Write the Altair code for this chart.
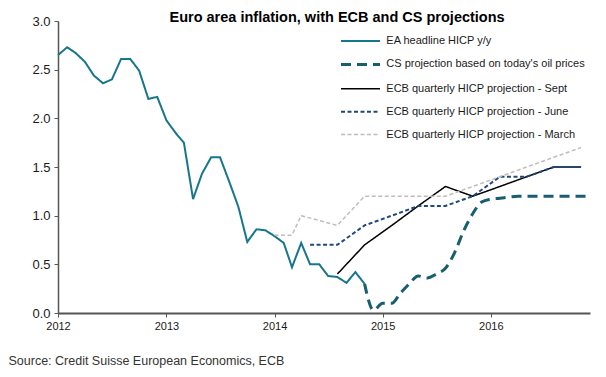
import altair as alt
import pandas as pd

# ---- data ----
hicp_start = "2012-01"
hicp_values = [2.65, 2.73, 2.67, 2.58, 2.44, 2.36, 2.40, 2.61, 2.61, 2.49, 2.20, 2.22,
               1.98, 1.85, 1.75, 1.17, 1.43, 1.60, 1.60, 1.35, 1.09, 0.73, 0.86, 0.85,
               0.79, 0.72, 0.47, 0.72, 0.50, 0.50, 0.38, 0.37, 0.31, 0.42, 0.30]

cs_start = "2014-11"
cs_values = [0.30, 0.03, 0.10, 0.10, 0.20, 0.30, 0.38, 0.36, 0.40, 0.46, 0.62, 0.84,
             1.02, 1.14, 1.17, 1.18, 1.19, 1.20, 1.20, 1.20, 1.20, 1.20, 1.20, 1.20,
             1.20, 1.20]

sept_dates = ["2014-08", "2014-11", "2015-02", "2015-05", "2015-08", "2015-11",
              "2016-02", "2016-05", "2016-08", "2016-11"]
sept_values = [0.40, 0.70, 0.90, 1.10, 1.30, 1.20, 1.30, 1.40, 1.50, 1.50]

june_dates = ["2014-05", "2014-08", "2014-11", "2015-02", "2015-05", "2015-08",
              "2015-11", "2016-02", "2016-05", "2016-08", "2016-11"]
june_values = [0.70, 0.70, 0.90, 1.00, 1.10, 1.10, 1.20, 1.40, 1.40, 1.50, 1.50]

march_dates = ["2014-01", "2014-03", "2014-04", "2014-08", "2014-11", "2015-08",
               "2015-11", "2016-02", "2016-05", "2016-08", "2016-11"]
march_values = [0.80, 0.80, 1.00, 0.90, 1.20, 1.20, 1.30, 1.40, 1.50, 1.60, 1.70]

series_names = ["EA headline HICP y/y",
                "CS projection based on today's oil prices",
                "ECB quarterly HICP projection - Sept",
                "ECB quarterly HICP projection - June",
                "ECB quarterly HICP projection - March"]
series_colors = ["#17768C", "#175E6E", "#000000", "#1F497D", "#C2BCB8"]
series_dashes = [[1, 0], [10, 6], [1, 0], [4, 2.5], [4, 2.5]]
series_widths = [2, 3, 1.5, 2, 1.5]

title_text = "Euro area inflation, with ECB and CS projections"
source_text = "Source: Credit Suisse European Economics, ECB"


def monthly(start, values):
    return [d.strftime("%Y-%m-01T00:00:00") for d in
            pd.date_range(start + "-01", periods=len(values), freq="MS")]


def q(dates):
    return [d + "-01T00:00:00" for d in dates]


frames = [
    pd.DataFrame({"date": monthly(hicp_start, hicp_values), "value": hicp_values, "series": series_names[0]}),
    pd.DataFrame({"date": monthly(cs_start, cs_values), "value": cs_values, "series": series_names[1]}),
    pd.DataFrame({"date": q(sept_dates), "value": sept_values, "series": series_names[2]}),
    pd.DataFrame({"date": q(june_dates), "value": june_values, "series": series_names[3]}),
    pd.DataFrame({"date": q(march_dates), "value": march_values, "series": series_names[4]}),
]
df = pd.concat(frames, ignore_index=True)

FONT = "Liberation Sans, Arial, sans-serif"

# long horizontal stroke drawn from a small symbol so rows can sit close together
legend = alt.Legend(title=None, orient="none", legendX=296, legendY=14,
                    symbolType="M-4,0H4", symbolSize=95, labelFont=FONT,
                    labelFontSize=11, labelColor="#1a1a1a", rowPadding=11.9,
                    labelOffset=19.3, labelLimit=400)

x = alt.X("date:T",
          scale=alt.Scale(domain=["2012-01-01T00:00:00", "2016-12-01T00:00:00"]),
          axis=alt.Axis(title=source_text, format="%Y",
                        tickCount={"interval": "year", "step": 1}, labelFlush=False,
                        labelFont=FONT, labelFontSize=11, labelColor="#1a1a1a",
                        labelPadding=3, tickSize=4, tickColor="#555555", tickWidth=1,
                        domainColor="#555555", domainWidth=2, grid=False,
                        titleFont=FONT, titleFontSize=12.5,
                        titleFontWeight="normal", titleColor="#333333",
                        titleAnchor="start", titleAlign="left", titleX=-50, titleY=47,
                        titleBaseline="middle"))
y = alt.Y("value:Q",
          scale=alt.Scale(domain=[0, 3]),
          axis=alt.Axis(title=title_text, values=[0, 0.5, 1, 1.5, 2, 2.5, 3], format=".1f",
                        labelFont=FONT, labelFontSize=13, labelColor="#1a1a1a",
                        labelPadding=4, tickSize=4, tickColor="#555555",
                        domainColor="#555555", domainWidth=1.5, grid=False,
                        titleFont=FONT, titleFontSize=14.5, titleFontWeight="bold",
                        titleColor="#000000", titleAngle=0, titleAlign="left",
                        titleBaseline="alphabetic", titleX=111, titleY=0))
color = alt.Color("series:N", scale=alt.Scale(domain=series_names, range=series_colors), legend=legend)
dash = alt.StrokeDash("series:N", scale=alt.Scale(domain=series_names, range=series_dashes), legend=legend)
width = alt.StrokeWidth("series:N", scale=alt.Scale(type="ordinal", domain=series_names, range=series_widths), legend=legend)

base = alt.Chart(df).encode(x=x, y=y, color=color, strokeDash=dash, strokeWidth=width)

lines = base.transform_filter(alt.datum.series != series_names[1]).mark_line(interpolate="linear")
cs = base.transform_filter(alt.datum.series == series_names[1]).mark_line(interpolate="monotone")

chart = alt.layer(lines, cs).properties(
    width=532, height=292,
    autosize=alt.AutoSizeParams(type="none"),
    padding={"left": 50, "top": 13, "right": 8, "bottom": 60},
).configure_view(stroke=None)

chart.save("out.html", embed_options={"renderer": "svg", "actions": False})
